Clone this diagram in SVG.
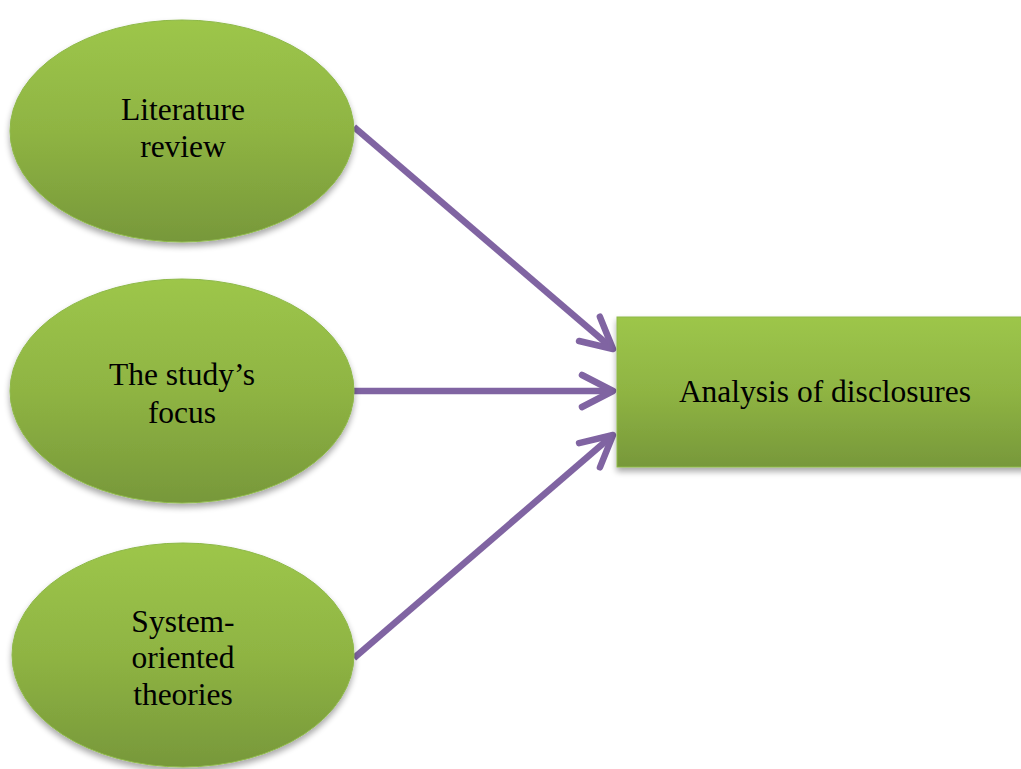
<svg xmlns="http://www.w3.org/2000/svg" width="1021" height="769" viewBox="0 0 1021 769">
<defs>
<linearGradient id="g" x1="0" y1="0" x2="0" y2="1">
<stop offset="0" stop-color="#9dc64a"/>
<stop offset="0.5" stop-color="#8fb443"/>
<stop offset="1" stop-color="#77983a"/>
</linearGradient>
<filter id="sh" x="-10%" y="-10%" width="120%" height="125%">
<feGaussianBlur in="SourceAlpha" stdDeviation="3"/>
<feOffset dx="0" dy="4" result="b"/>
<feComponentTransfer><feFuncA type="linear" slope="0.35"/></feComponentTransfer>
<feMerge><feMergeNode/><feMergeNode in="SourceGraphic"/></feMerge>
</filter>
<marker id="ah" markerUnits="userSpaceOnUse" markerWidth="50" markerHeight="50" refX="0" refY="0" viewBox="-40 -25 50 50" orient="auto" overflow="visible">
<path d="M -31 -16 L 0 0 L -31 16" fill="none" stroke="#8064a2" stroke-width="6.5" stroke-linecap="round" stroke-linejoin="round"/>
</marker>
<style>
.node{fill:url(#g);stroke:#8db848;stroke-width:1;filter:url(#sh)}
.lbl{font-family:"Liberation Serif","Times New Roman",serif;font-size:31.5px;fill:#000;text-anchor:middle}
.conn{fill:none;stroke:#8064a2;stroke-width:6.5;marker-end:url(#ah)}
</style>
</defs>
<g id="connectors">
<line class="conn" x1="354" y1="127" x2="613" y2="349"/>
<line class="conn" x1="354" y1="391" x2="613" y2="391"/>
<line class="conn" x1="354" y1="658" x2="613" y2="435"/>
</g>
<g id="node-literature">
<ellipse class="node" cx="182" cy="131" rx="172" ry="111"/>
<text class="lbl" x="183" y="120">Literature</text>
<text class="lbl" x="183" y="157">review</text>
</g>
<g id="node-focus">
<ellipse class="node" cx="182" cy="391" rx="172" ry="112"/>
<text class="lbl" x="182" y="385">The study’s</text>
<text class="lbl" x="182" y="423">focus</text>
</g>
<g id="node-theories">
<ellipse class="node" cx="183" cy="655" rx="171" ry="112"/>
<text class="lbl" x="183" y="632">System-</text>
<text class="lbl" x="183" y="668">oriented</text>
<text class="lbl" x="183" y="705">theories</text>
</g>
<g id="node-analysis">
<rect class="node" x="617" y="317" width="420" height="150"/>
<text class="lbl" x="825" y="402">Analysis of disclosures</text>
</g>
</svg>
